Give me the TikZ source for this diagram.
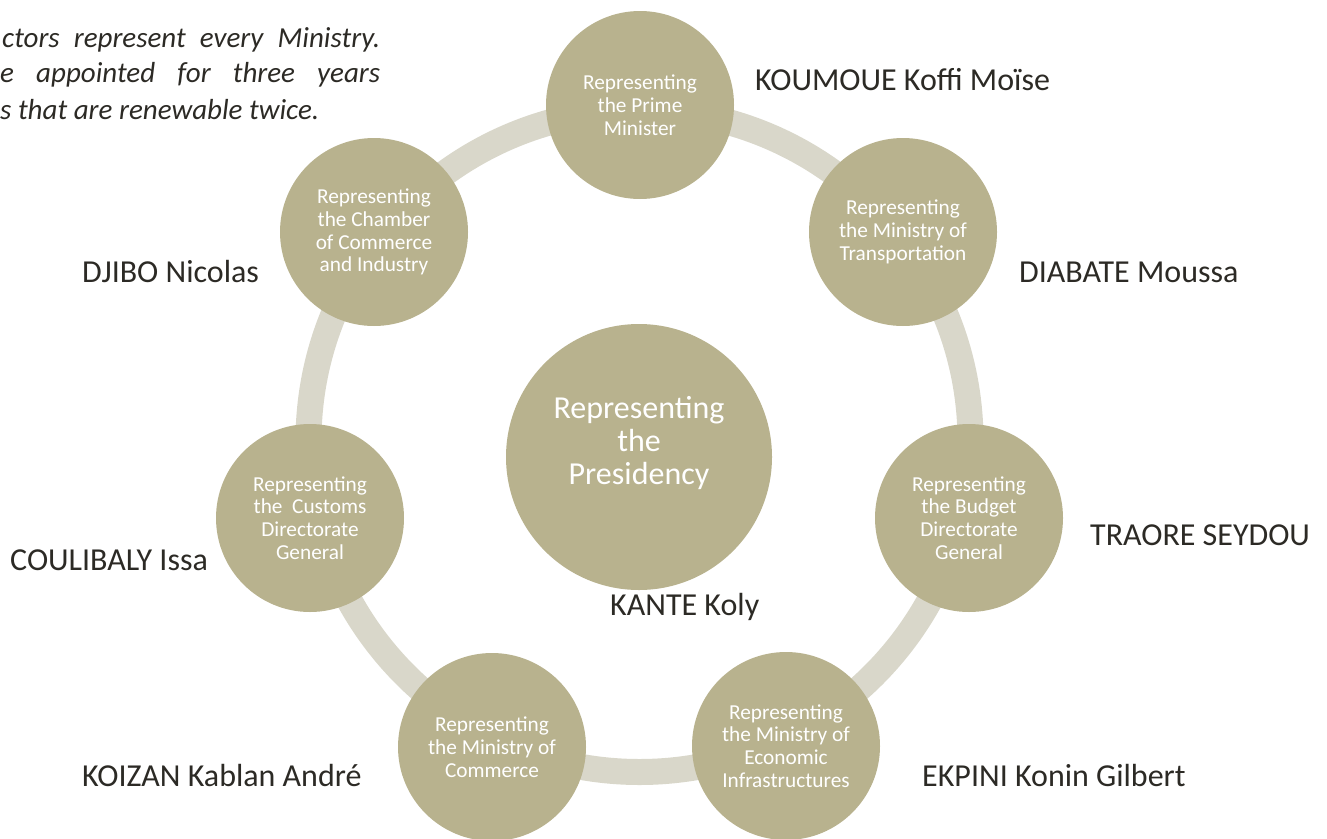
\documentclass[tikz,border=0pt]{standalone}
\usepackage{fontspec}
\setmainfont{Carlito}
\definecolor{disc}{HTML}{B8B28E}
\definecolor{band}{HTML}{D9D7CA}
\definecolor{ink}{HTML}{2C2A25}
\begin{document}
\begin{tikzpicture}[x=1pt,y=-1pt,
  member/.style={circle,fill=disc,minimum size=188pt,inner sep=0pt,
    text=white,align=center,font=\fontsize{21.3}{22.8}\selectfont},
  chair/.style={circle,fill=disc,minimum size=266pt,inner sep=0pt},
  chairtext/.style={text=white,align=center,inner sep=0pt,
    font=\fontsize{32}{33}\selectfont},
  director/.style={text=ink,anchor=west,inner sep=0pt,font=\fontsize{32}{34}\selectfont},
  remark/.style={text=ink,anchor=west,inner sep=0pt,font=\fontsize{29}{30}\selectfont\itshape}]
\useasboundingbox (0,0) rectangle (1327,838);
\clip (0,0) rectangle (1327,838);

% note on the board's mandate
\node[remark] (n1) at (2,40) {\makebox[378pt][s]{ctors represent every Ministry.}};
\node[remark] (n2) at (0,75) {\makebox[380pt][s]{e appointed for three years}};
\node[remark] (n3) at (0,110) {s that are renewable twice.};

% ring linking the members
\draw[band,line width=26pt] (639.5,441) circle[radius=331];

% members of the board
\node[member] (pm)  at (640,105) {Representing\\the Prime\\Minister};
\node[member] (tr)  at (903,232) {Representing\\the Ministry of\\Transportation};
\node[member] (bu)  at (969,518) {Representing\\the Budget\\Directorate\\General};
\node[member] (ei)  at (786,746) {Representing\\the Ministry of\\Economic\\Infrastructures};
\node[member] (co)  at (492,747) {Representing\\the Ministry of\\Commerce};
\node[member] (cu)  at (310,518) {Representing\\the\ \ Customs\\Directorate\\General};
\node[member] (ch)  at (374,232) {Representing\\the Chamber\\of Commerce\\and Industry};
\node[chair]  (pr)  at (639,457) {};
\node[chairtext] (prt) at (639,443) {Representing\\the\\Presidency};

% names of the directors
\node[director] (lpm) at (755,80)  {KOUMOUE Koffi Moïse};
\node[director] (ltr) at (1019,272) {DIABATE Moussa};
\node[director] (lbu) at (1090,535) {TRAORE SEYDOU};
\node[director] (lei) at (922,775) {EKPINI Konin Gilbert};
\node[director] (lco) at (82,775)  {KOIZAN Kablan André};
\node[director] (lcu) at (10,560)  {COULIBALY Issa};
\node[director] (lch) at (82,272)  {DJIBO Nicolas};
\node[director] (lpr) at (610,607) {KANTE Koly};
\end{tikzpicture}
\end{document}
